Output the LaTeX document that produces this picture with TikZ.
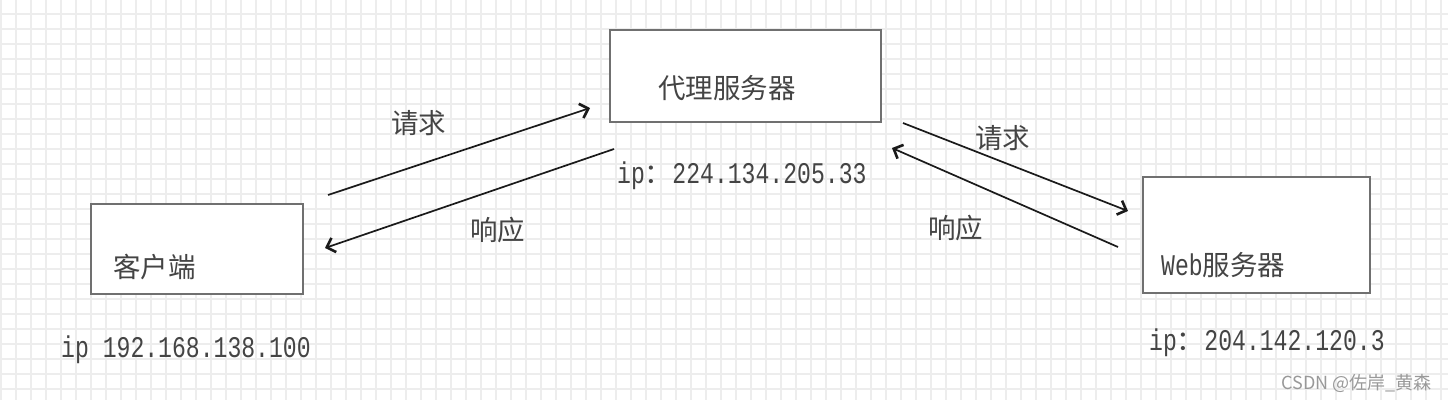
\documentclass[tikz,border=0pt]{standalone}
\usepackage{fontspec}
\usetikzlibrary{arrows.meta}
\newfontfamily\cjk{Noto Sans CJK SC}
\newfontfamily\monof[FakeStretch=0.77]{Liberation Mono}
\definecolor{gridc}{HTML}{EDEDED}
\definecolor{boxc}{HTML}{707070}
\definecolor{txtc}{HTML}{444444}
\definecolor{wmc}{HTML}{999999}
\definecolor{arrc}{HTML}{1A1A1A}
\tikzset{
  boxnode/.style={draw=boxc, line width=2pt, fill=white, rectangle, inner sep=0pt},
  lbl/.style={anchor=base west, inner sep=0pt, text=txtc, font=\cjk\fontsize{27.5}{27.5}\selectfont},
  iplbl/.style={anchor=base west, inner sep=0pt, text=txtc, font=\monof\fontsize{30}{30}\selectfont},
  arr/.style={draw=arrc, line width=1.7pt, -{Straight Barb[length=7.5pt,width=15pt,line width=2.6pt]}},
}
\newcommand{\cjkc}[1]{{\cjk\fontsize{27.5}{27.5}\selectfont #1}}
\begin{document}
\begin{tikzpicture}[x=1pt,y=-1pt]
\useasboundingbox (0,0) rectangle (1448,400);
\fill[white] (0,0) rectangle (1448,400);
% grid
\foreach \x in {1,16,...,1448} \draw[gridc, line width=1.1pt] (\x,0) -- (\x,400);
\foreach \y in {-1,14,...,400} \draw[gridc, line width=1.1pt] (0,\y) -- (1448,\y);
% boxes
\node[boxnode, minimum width=212pt, minimum height=90pt] (client) at (197,249) {};
\node[boxnode, minimum width=271pt, minimum height=92pt] (proxy) at (745.5,76) {};
\node[boxnode, minimum width=227pt, minimum height=116pt] (web) at (1256.5,235) {};
% box labels
\node[lbl] (clientlbl) at (113,277) {客户端};
\node[lbl] (proxylbl) at (658,98) {代理服务器};
\node[iplbl] (weblbl) at (1161,275) {Web\cjkc{服务器}};
% ip labels
\node[iplbl] (clientip) at (61,357) {ip 192.168.138.100};
\node[iplbl] (proxyip) at (617,183) {ip\cjkc{：}224.134.205.33};
\node[iplbl] (webip) at (1149,350) {ip\cjkc{：}204.142.120.3};
% connector ends
\coordinate (a1s) at (328,195);
\coordinate (a1e) at (590,108);
\coordinate (a2s) at (614,149);
\coordinate (a2e) at (325,248);
\coordinate (a3s) at (903,123);
\coordinate (a3e) at (1128,211);
\coordinate (a4s) at (1118,247);
\coordinate (a4e) at (892,148);
\draw[arr] (a1s) -- (a1e);
\draw[arr] (a2s) -- (a2e);
\draw[arr] (a3s) -- (a3e);
\draw[arr] (a4s) -- (a4e);
% arrow labels
\node[lbl] (req1) at (391,133) {请求};
\node[lbl] (resp1) at (470,240) {响应};
\node[lbl] (req2) at (975,148) {请求};
\node[lbl] (resp2) at (928,238) {响应};
% watermark
\node[anchor=base east, inner sep=0pt, text=wmc, font=\cjk\fontsize{18}{18}\selectfont] (wm) at (1432,389) {CSDN @佐岸\_黄森};
\end{tikzpicture}
\end{document}
